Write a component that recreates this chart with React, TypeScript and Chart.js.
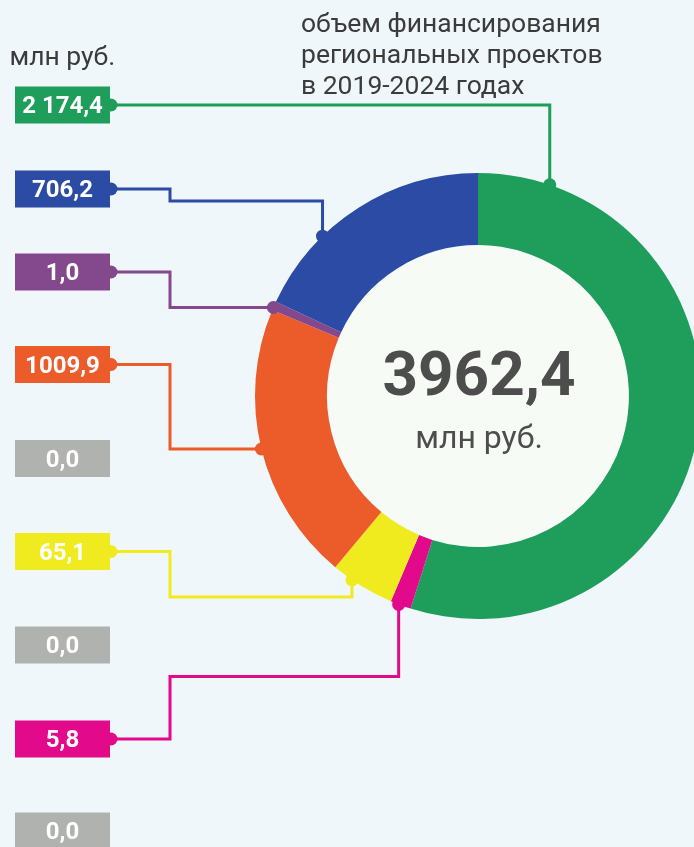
import { useEffect, useRef } from "react";
import { Chart, registerables } from "chart.js";

Chart.register(...registerables);

// ---- data (label order, top to bottom) ----
const categories = ["РП 1", "РП 2", "РП 3", "РП 4", "РП 5", "РП 6", "РП 7", "РП 8", "РП 9"];
const values = [2174.4, 706.2, 1.0, 1009.9, 0, 65.1, 0, 5.8, 0];
const valueLabels = ["2 174,4", "706,2", "1,0", "1009,9", "0,0", "65,1", "0,0", "5,8", "0,0"];
// slice sizes as drawn in the picture (degrees of the ring)
const sliceDegrees = [197.6, 65.0, 2.3, 72.9, 0, 16.8, 0, 5.4, 0];
const colors = ["#1f9d5b", "#2b4ba5", "#84488c", "#ec5b2a", "#b0b2b0", "#efeb1f", "#b0b2b0", "#e2098a", "#b0b2b0"];
const titleLines = ["объем финансирования", "региональных проектов", "в 2019-2024 годах"];
const unitText = "млн руб.";

// clockwise drawing order of the ring, starting at the top
const ringOrder = [0, 8, 7, 6, 5, 4, 3, 2, 1];

// ---- layout / style ----
const BG = "#eff7fb";
const INNER = "#f6fbf6";
const CANVAS_W = 760;
const CANVAS_H = 847;
const boxX = 15;
const boxW = 95;
const boxH = 37;
const boxCentersY = [105, 189, 272, 364.5, 458.5, 551.5, 645, 739, 831];
const anchorFrac = [0.095, 0.32, 0.3, 0.5, 0, 0.68, 0, 0.6, 0];
const elbowX = 170;
// route kinds: "hv" = straight to anchor.x then vertical; number = mid y level; "anchorY" = go to anchor y
const routes: (string | number | null)[] = ["hv", 201, "anchorY", "anchorY", null, 597, null, 676.5, null];

const overlayPlugin = {
  id: "overlay",
  afterDatasetsDraw(chart: any) {
    const ctx = chart.ctx as CanvasRenderingContext2D;
    const meta = chart.getDatasetMeta(0);
    const first = meta.data[0] as any;
    const cx = first.x;
    const cy = first.y;
    const inner = first.innerRadius;
    ctx.save();
    ctx.fillStyle = INNER;
    ctx.beginPath();
    ctx.arc(cx, cy, inner - 0.5, 0, Math.PI * 2);
    ctx.fill();

    // center total
    const total = values.reduce((a, b) => a + b, 0);
    ctx.fillStyle = "#4d4d4d";
    ctx.textAlign = "center";
    ctx.textBaseline = "alphabetic";
    ctx.font = "bold 62px Roboto";
    ctx.fillText(total.toFixed(1).replace(".", ","), cx + 1, cy - 1);
    ctx.font = "32px Roboto";
    ctx.fillText(unitText, cx + 1, cy + 52);
    ctx.restore();
  },
  afterDraw(chart: any) {
    const ctx = chart.ctx as CanvasRenderingContext2D;
    const meta = chart.getDatasetMeta(0);
    ctx.save();

    // titles
    ctx.fillStyle = "#3b3b3b";
    ctx.textAlign = "left";
    ctx.textBaseline = "alphabetic";
    ctx.font = "26.5px Roboto";
    titleLines.forEach((t, i) => ctx.fillText(t, 301, 32 + i * 31));
    ctx.fillText(unitText, 9.5, 65);

    categories.forEach((_, i) => {
      const color = colors[i];
      const yc = boxCentersY[i];
      const ringIdx = ringOrder.indexOf(i);
      const arc = meta.data[ringIdx] as any;
      const hasLink = values[i] > 0 && routes[i] !== null;

      if (hasLink && arc) {
        const a = arc.startAngle + anchorFrac[i] * (arc.endAngle - arc.startAngle);
        const ax = arc.x + arc.outerRadius * Math.cos(a);
        const ay = arc.y + arc.outerRadius * Math.sin(a);
        const pts: [number, number][] = [[111, yc]];
        const r = routes[i];
        if (r === "hv") {
          pts.push([ax, yc], [ax, ay]);
        } else if (r === "anchorY") {
          pts.push([elbowX, yc], [elbowX, ay], [ax, ay]);
        } else if (typeof r === "number") {
          pts.push([elbowX, yc], [elbowX, r], [ax, r], [ax, ay]);
        }
        ctx.strokeStyle = color;
        ctx.lineWidth = 3;
        ctx.lineJoin = "miter";
        ctx.beginPath();
        pts.forEach((p, k) => (k === 0 ? ctx.moveTo(p[0], p[1]) : ctx.lineTo(p[0], p[1])));
        ctx.stroke();
        ctx.fillStyle = color;
        ctx.beginPath();
        ctx.arc(ax, ay, 6.5, 0, Math.PI * 2);
        ctx.fill();
        ctx.beginPath();
        ctx.arc(111, yc, 6.5, 0, Math.PI * 2);
        ctx.fill();
      }

      ctx.fillStyle = color;
      ctx.fillRect(boxX, yc - boxH / 2, boxW, boxH);
      ctx.fillStyle = "#ffffff";
      ctx.font = "bold 24px Roboto";
      ctx.textAlign = "center";
      ctx.fillText(valueLabels[i], boxX + boxW / 2, yc + 8);
    });
    ctx.restore();
  },
};

export default function App() {
  const ref = useRef<HTMLCanvasElement | null>(null);
  useEffect(() => {
    document.body.style.margin = "0";
    document.body.style.background = BG;
    if (!ref.current) return;
    const chart = new Chart(ref.current, {
      type: "doughnut",
      data: {
        labels: ringOrder.map((i) => categories[i]),
        datasets: [
          {
            data: ringOrder.map((i) => sliceDegrees[i]),
            backgroundColor: ringOrder.map((i) => colors[i]),
            borderWidth: 0,
          },
        ],
      },
      options: {
        responsive: false,
        maintainAspectRatio: false,
        animation: false,
        events: [],
        cutout: "67.7%",
        rotation: 0,
        circumference: 360,
        layout: { padding: { left: 255, right: CANVAS_W - 701, top: 173, bottom: CANVAS_H - 619 } },
        plugins: { legend: { display: false }, tooltip: { enabled: false } },
      },
      plugins: [overlayPlugin],
    });
    return () => chart.destroy();
  }, []);
  return (
    <div style={{ width: 694, height: 847, overflow: "hidden", background: BG, position: "relative" }}>
      <canvas ref={ref} width={CANVAS_W} height={CANVAS_H} style={{ display: "block", width: CANVAS_W, height: CANVAS_H }} />
    </div>
  );
}
